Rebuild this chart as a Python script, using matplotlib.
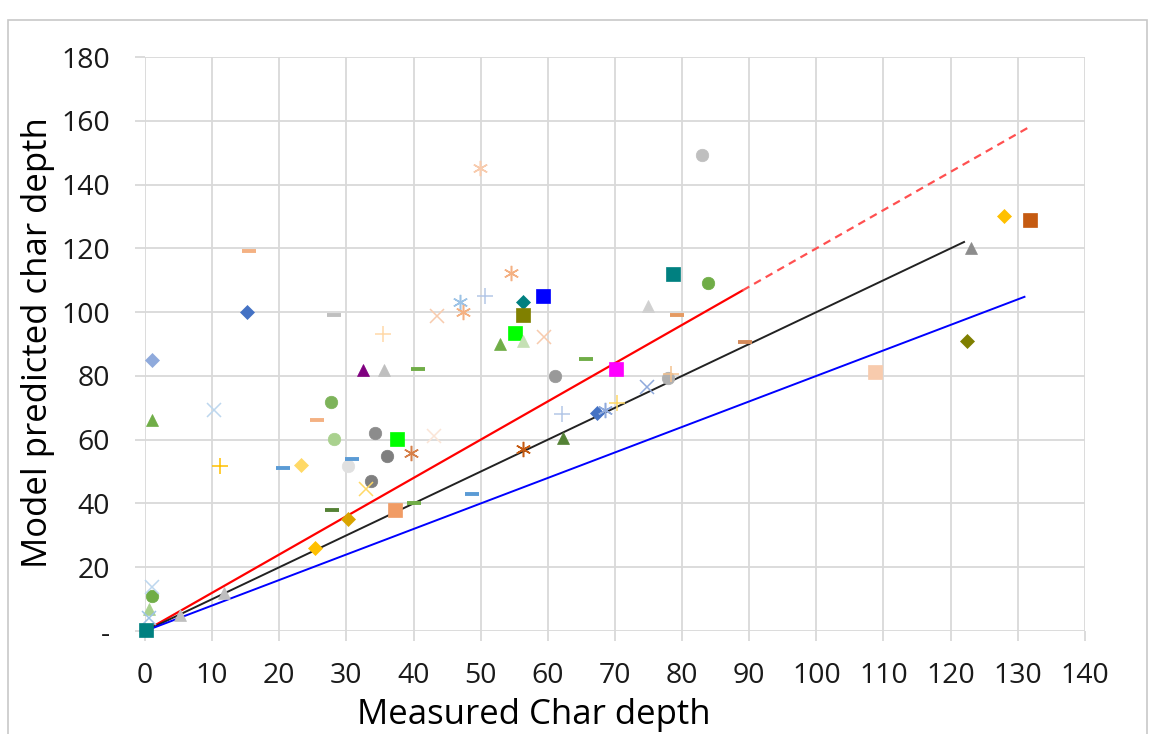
import matplotlib.pyplot as plt
from matplotlib.patches import Rectangle

plt.rcParams['font.family'] = ['Open Sans', 'DejaVu Sans']

# measured vs model-predicted char depth, one entry per specimen
measured = [1.1, 1.1, 15.2, 15.5, 28.1, 35.4, 32.4, 35.6, 27.7, 10.3,
            25.6, 34.3, 28.1, 37.5, 49.9, 54.5, 46.9, 50.7, 56.3, 59.3,
            43.5, 47.4, 56.3, 55.1, 52.9, 56.3, 59.4, 65.7, 40.6, 61.1,
            82.9, 78.6, 83.9, 74.9, 79.3, 70.2, 89.3, 77.9, 78.3, 74.8,
            62.1, 70.3, 67.3, 68.5, 128.0, 131.8, 123.0, 122.4, 108.8, 43.1,
            11.2, 20.5, 23.2, 30.3, 30.8, 36.1, 39.6, 33.6, 32.9, 27.9,
            37.3, 40.0, 30.3, 25.3, 11.7, 1.1, 1.1, 0.6, 0.6, 0.2,
            56.3, 62.3, 48.7, 5.2]
predicted = [85.1, 66.1, 99.9, 119.3, 99.0, 93.2, 81.8, 81.8, 71.9, 69.3,
             66.2, 62.2, 60.1, 60.1, 145.1, 112.2, 103.1, 105.0, 103.1, 105.2,
             98.9, 99.9, 99.2, 93.4, 90.0, 90.9, 92.1, 85.2, 82.2, 80.1,
             149.3, 111.9, 109.0, 101.9, 99.0, 82.2, 90.5, 79.2, 80.6, 76.4,
             68.0, 71.4, 68.3, 69.3, 130.3, 128.9, 120.0, 91.0, 81.2, 61.1,
             51.8, 51.0, 52.0, 51.8, 54.1, 55.0, 55.9, 47.1, 44.6, 38.1,
             37.9, 40.3, 35.1, 26.1, 11.8, 11.0, 13.7, 6.8, 4.0, 0.3,
             57.1, 60.4, 42.9, 5.0]

# reference ratio lines (predicted = k * measured)
line_120_x = [0, 89]
line_120_y = [0, 106.8]
line_120_ext_x = [89, 131.5]
line_120_ext_y = [106.8, 157.8]
line_100_x = [0, 122]
line_100_y = [0, 122]
line_080_x = [0, 131]
line_080_y = [0, 104.8]

xticks = list(range(0, 141, 10))
yticks = list(range(0, 181, 20))
ytick_labels = ['-'] + [str(v) for v in yticks[1:]]

# marker style per point (Excel-like auto markers)
styles = [
    ('D', '#8FAADC'), ('^', '#70AD47'), ('D', '#4472C4'), ('_', '#F4B183'), ('_', '#BFBFBF'),
    ('+', '#FFD9A8'), ('^', '#800080'), ('^', '#BFBFBF'), ('o', '#7DB35A'), ('x', '#BDD7EE'),
    ('_', '#F4B183'), ('o', '#8C8C8C'), ('o', '#A9D18E'), ('s', '#00FF00'), ('*6', '#F8CBAD'),
    ('*6', '#F4B183'), ('*6', '#9DC3E6'), ('+', '#B4C7E7'), ('D', '#008080'), ('s', '#0000FF'),
    ('x', '#F8CBAD'), ('*6', '#F4B183'), ('s', '#808000'), ('s', '#00FF00'), ('^', '#70AD47'),
    ('^', '#C5E0B4'), ('x', '#F8CBAD'), ('_', '#70AD47'), ('_', '#70AD47'), ('o', '#999999'),
    ('o', '#BFBFBF'), ('s', '#008080'), ('o', '#70AD47'), ('^', '#D0D0D0'), ('_', '#E59A62'),
    ('s', '#FF00FF'), ('_', '#D48A5A'), ('o', '#B0B0B0'), ('+', '#F4C28F'), ('x', '#8FAADC'),
    ('+', '#B4C7E7'), ('+', '#FFD966'), ('D', '#4472C4'), ('*6', '#8FAADC'), ('D', '#FFC000'),
    ('s', '#C55A11'), ('^', '#8C8C8C'), ('D', '#7F7F00'), ('s', '#F8CBAD'), ('x', '#FBE5D6'),
    ('+', '#FFC000'), ('_', '#5B9BD5'), ('D', '#FFD966'), ('o', '#E0E0E0'), ('_', '#5B9BD5'),
    ('o', '#7F7F7F'), ('*6', '#D6804A'), ('o', '#7F7F7F'), ('x', '#FFD966'), ('_', '#548235'),
    ('s', '#F19C65'), ('_', '#70AD47'), ('D', '#D9A400'), ('D', '#FFC000'), ('^', '#BFBFBF'),
    ('o', '#70AD47'), ('x', '#BDD7EE'), ('^', '#A9D18E'), ('x', '#9DC3E6'), ('s', '#008080'),
    ('*6', '#C55A11'), ('^', '#548235'), ('_', '#5B9BD5'), ('^', '#BFBFBF'),
]
sizes = {'D': 7, 's': 10, '^': 9, 'o': 9, '_': 10, '+': 11, 'x': 10, '*6': 11}

fig = plt.figure(figsize=(11.49, 7.34), dpi=100)
ax = fig.add_axes([0.1262, 0.1403, 0.818, 0.782])

ax.plot(line_120_x, line_120_y, color='#FF0000', lw=1.6)
ax.plot(line_120_ext_x, line_120_ext_y, color='#FF5050', lw=1.6, dashes=(3.5, 2.5))
ax.plot(line_100_x, line_100_y, color='#222222', lw=1.4)
ax.plot(line_080_x, line_080_y, color='#0000FF', lw=1.4)

for x, y, (m, c) in zip(measured, predicted, styles):
    mk = (6, 2, 0) if m == '*6' else m
    lw = 2.8 if m == '_' else 1.1
    ax.plot([x], [y], linestyle='none', marker=mk, ms=sizes[m], color=c,
            mew=lw if m in ('_', '+', 'x', '*6') else 0.5, mec=c, clip_on=False, zorder=3)

ax.set_xlim(0, 140)
ax.set_ylim(0, 180)
ax.set_xticks(xticks)
ax.set_yticks(yticks)
ax.set_yticklabels(ytick_labels)
ax.grid(True, color='#D9D9D9', lw=1.3)
ax.set_axisbelow(True)
for s in ax.spines.values():
    s.set_visible(False)
ax.tick_params(axis='both', colors='#D9D9D9', labelcolor='#1A1A1A', length=7, width=1.3,
               labelsize=20.5)
ax.tick_params(axis='y', pad=18)
ax.tick_params(axis='x', pad=15)

fig.text(534 / 1149, 1 - 715 / 734, 'Measured Char depth', ha='center', va='center', fontsize=25)
fig.text(38 / 1149, 1 - 343 / 734, 'Model predicted char depth', ha='center', va='center',
         rotation=90, fontsize=25)

fig.patches.append(Rectangle((0.007, -0.02), 0.991, 0.993, transform=fig.transFigure,
                             fill=False, edgecolor='#C8C8C8', lw=1.2))

fig.savefig('out.png', dpi=100)
